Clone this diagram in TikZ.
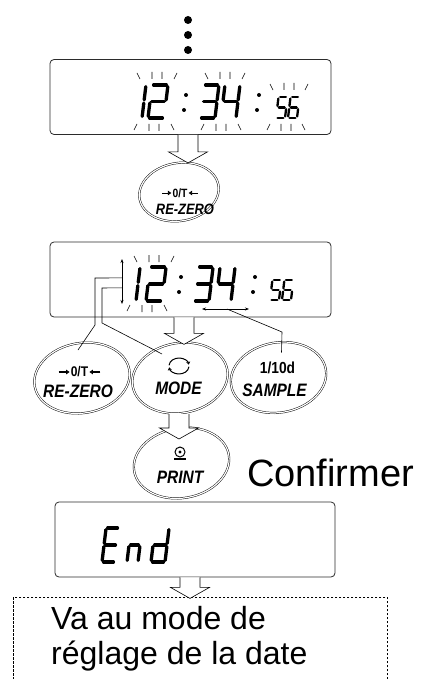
\documentclass[tikz,border=0pt]{standalone}
\usepackage{fontspec}
\setmainfont{Liberation Sans}
\newfontfamily\keyfont[FakeStretch=0.86]{Liberation Sans}
\usetikzlibrary{arrows.meta,positioning,shapes.geometric,calc}
\definecolor{lcdgray}{HTML}{2B2B2B}

% seven-segment digit: [line width] {x}{y bottom}{width}{height}{segments}
\newcommand{\lcd}[6][3.3pt]{%
  \begin{scope}[shift={(#2,#3)},xslant=0.12,seg/.append style={line width=#1}]
    \foreach \s in {#6} {
      \if\s a\draw[seg] (0,-#5) -- (#4,-#5);\fi
      \if\s b\draw[seg] (#4,-#5) -- (#4,-#5/2);\fi
      \if\s c\draw[seg] (#4,-#5/2) -- (#4,0);\fi
      \if\s d\draw[seg] (0,0) -- (#4,0);\fi
      \if\s e\draw[seg] (0,-#5/2) -- (0,0);\fi
      \if\s f\draw[seg] (0,-#5) -- (0,-#5/2);\fi
      \if\s g\draw[seg] (0,-#5/2) -- (#4,-#5/2);\fi
    }
  \end{scope}}

% blinking marks: {x above}{y above}{x below}{y below}{spread}
\newcommand{\rays}[5]{%
  \draw[ray] (#1-#5,#2) -- +(-3,-6) (#1-5,#2) -- +(0,-7)
    (#1+5,#2) -- +(0,-7) (#1+#5,#2) -- +(3,-6);
  \draw[ray] (#3-#5,#4) -- +(-3,6) (#3-5,#4) -- +(0,7)
    (#3+5,#4) -- +(0,7) (#3+#5,#4) -- +(3,6);}

\begin{document}
\begin{tikzpicture}[
  x=1pt,
  y=-1pt,
  disp/.style={draw=lcdgray, line width=0.8pt, rounded corners=4pt,
    minimum width=281pt, minimum height=75pt, inner sep=0pt},
  keyring/.style={ellipse, draw, double, double distance=1.2pt,
    line width=0.45pt, minimum width=96pt, minimum height=70pt,
    inner sep=0pt, rotate=10},
  keyname/.style={inner sep=0pt,
    font=\keyfont\bfseries\itshape\fontsize{18}{18}\selectfont},
  keysym/.style={inner sep=0pt,
    font=\keyfont\bfseries\fontsize{14}{14}\selectfont},
  zarrow/.style={line width=1.1pt, -{Triangle[length=3.5pt,width=4.5pt]}},
  seg/.style={line cap=round, shorten <=1.6pt, shorten >=1.6pt},
  ray/.style={line width=0.6pt},
  leader/.style={line width=0.6pt},
  dimarrow/.style={{Stealth[length=4pt,width=3pt]}-{Stealth[length=4pt,width=3pt]},
    line width=0.6pt},
  notebox/.style={draw, line width=0.6pt, dash pattern=on 2.5pt off 1.5pt,
    minimum width=374pt, minimum height=100pt, inner sep=0pt},
  blockdown/.pic={\draw[fill=white, line width=0.6pt] (-10,0) -- (-10,#1)
    -- (-19.5,#1) -- (0,#1+11) -- (19.5,#1) -- (10,#1) -- (10,0);}
]
  \useasboundingbox (0,0) rectangle (422,679);
  \clip (0,0) rectangle (422,679);

  % continuation dots
  \foreach \y in {20,35,50}
    \fill (188,\y) circle (4);

  % displays
  \node[disp] (disp1) at (190.5,97) {};
  \node[disp] (disp2) at (190.5,279.5) {};
  \node[disp, minimum width=280pt] (dispend) at (195,539.5) {};

  % display 1: 12:34:56 all blinking
  \lcd{127}{118}{15}{33}{b,c}
  \lcd{148}{118}{16}{33}{a,b,g,e,d}
  \lcd{200}{118}{15}{33}{a,b,g,c,d}
  \lcd{221}{118}{15}{33}{f,g,b,c}
  \lcd[2.3pt]{276}{118}{9}{21}{a,f,g,c,d}
  \lcd[2.3pt]{288}{118}{9}{21}{a,f,g,e,d,c}
  \foreach \x in {185,258}
    \fill (\x+1,95) circle (2) (\x-1,110) circle (2);
  \rays{157}{79}{154}{124}{17}
  \rays{225}{79}{221}{124}{17}
  \rays{289}{90}{286}{124}{16}

  % display 2: hours blinking
  \lcd{121}{301}{15}{34}{b,c}
  \lcd{146}{301}{16}{34}{a,b,g,e,d}
  \lcd{194}{301}{15}{34}{a,b,g,c,d}
  \lcd{216}{301}{15}{34}{f,g,b,c}
  \lcd[2.3pt]{270}{300}{9}{20}{a,f,g,c,d}
  \lcd[2.3pt]{282}{300}{9}{20}{a,f,g,e,d,c}
  \foreach \x in {180,254}
    \fill (\x+1,277) circle (2) (\x-1,292) circle (2);
  \rays{154}{262}{147}{305}{17}

  % display 3: End
  \lcd{102}{562}{13}{34}{a,f,g,e,d}
  \lcd{127}{562}{11}{34}{g,e,c}
  \lcd{151}{562}{14}{34}{b,c,d,e,g}

  % keys
  \node[keyring, minimum width=80pt, minimum height=58pt] (rezeroa) at (179,192) {};
  \node[keyring] (rezerob) at (82,378) {};
  \node[keyring] (mode) at (180,378) {};
  \node[keyring] (sample) at (278.5,377.5) {};
  \node[keyring] (print) at (181.5,463) {};

  % note box
  \node[notebox, anchor=north west] (note) at (13,597) {};

  % selection marks and leaders
  \coordinate (va) at (122,259);
  \coordinate (vb) at (122,304);
  \coordinate (ha) at (202,309);
  \coordinate (hb) at (249,309);
  \draw[dimarrow] (va) -- (vb);
  \draw[dimarrow] (ha) -- (hb);
  \draw[leader] ($(va)!0.42!(vb)$) -- (95,278) -- (95,325) -- ($(rezerob)+(-4,-28)$);
  \draw[leader] ($(va)!0.64!(vb)$) -- (102,288) -- (102,323) -- ($(mode)+(-18,-24)$);
  \draw[leader] ($(ha)!0.53!(hb)$) -- (282,332) -- ($(sample)+(3,-25)$);

  % block arrows
  \pic at ([xshift=-2.5pt]disp1.south) {blockdown=17};
  \pic at ([xshift=-6.5pt]disp2.south) {blockdown=16};
  \pic at ($(mode)+(-1,36)$) {blockdown=14};
  \pic at ([xshift=-5pt]dispend.south) {blockdown=10};

  % key texts
  \node[keysym, font=\keyfont\bfseries\fontsize{12}{12}\selectfont]
    (zta) at ($(rezeroa)+(1,1)$) {0/T};
  \draw[zarrow, line width=0.9pt] ([xshift=-10pt]zta.west) -- ([xshift=-1pt]zta.west);
  \draw[zarrow, line width=0.9pt] ([xshift=10pt]zta.east) -- ([xshift=1pt]zta.east);
  \node[keyname, font=\keyfont\bfseries\itshape\fontsize{15}{15}\selectfont]
    at ($(rezeroa)+(6,17.5)$) {RE-ZERO};
  \node[keysym] (ztb) at ($(rezerob)+(-2.5,-6)$) {0/T};
  \draw[zarrow] ([xshift=-12pt]ztb.west) -- ([xshift=-1pt]ztb.west);
  \draw[zarrow] ([xshift=12pt]ztb.east) -- ([xshift=1pt]ztb.east);
  \node[keyname] at ($(rezerob)+(-4,13)$) {RE-ZERO};
  \draw[line width=1pt, -{Stealth[length=3pt,width=4pt]}]
    ($(mode)+(-1,-12)$) ++(185:10 and 8) arc (185:350:10 and 8);
  \draw[line width=1pt, -{Stealth[length=3pt,width=4pt]}]
    ($(mode)+(-1,-12)$) ++(5:10 and 8) arc (5:170:10 and 8);
  \node[keyname] at ($(mode)+(-1.5,10.5)$) {MODE};
  \node[keysym, font=\keyfont\bfseries\fontsize{16}{16}\selectfont]
    at ($(sample)+(-1,-10)$) {1/10d};
  \node[keyname] at ($(sample)+(-4,12.5)$) {SAMPLE};
  \draw[line width=1pt] ($(print)+(-1.5,-11)$) circle (5);
  \fill ($(print)+(-1.5,-11)$) circle (1.6);
  \draw[line width=1.2pt] ($(print)+(-7.5,-4)$) -- ($(print)+(4.5,-4)$);
  \node[keyname] at ($(print)+(-1.5,14)$) {PRINT};

  % texts
  \node[anchor=base west, inner sep=0pt, font=\fontsize{38}{44}\selectfont]
    (confirm) at (247,486) {Confirmer};
  \node[anchor=north west, inner sep=0pt, align=left,
    font=\fontsize{32}{35}\selectfont] (notetext) at (51,606)
    {Va au mode de\\réglage de la date};
\end{tikzpicture}
\end{document}
